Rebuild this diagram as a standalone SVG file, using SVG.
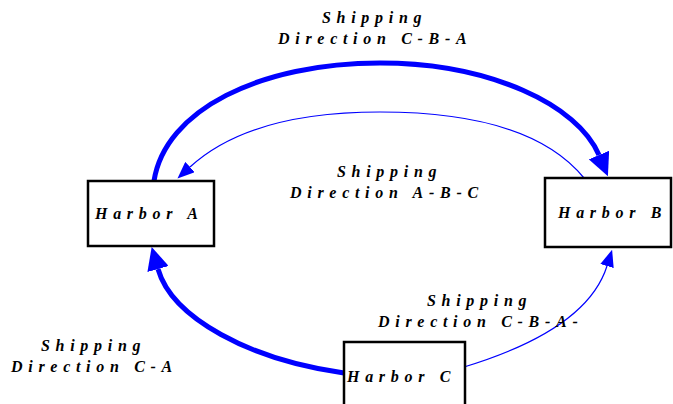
<svg xmlns="http://www.w3.org/2000/svg" width="673" height="404" viewBox="0 0 673 404">
<style>
.box{fill:#fff;stroke:#000;stroke-width:2.5}
.t{font-family:"Liberation Serif","DejaVu Serif",serif;font-weight:700;font-style:italic;font-size:16px;letter-spacing:5.7px;fill:#000}
.thick{fill:none;stroke:#0000ff;stroke-width:5}
.thin{fill:none;stroke:#0000ff;stroke-width:1.2}
</style>
<defs>
<marker id="ahBig" markerUnits="userSpaceOnUse" viewBox="0 -11 23 22" markerWidth="23" markerHeight="22" refX="0" refY="0" orient="auto">
<path d="M0,-11 L23,0 L0,11 z" fill="#0000ff"/>
</marker>
<marker id="ahSmall" markerUnits="userSpaceOnUse" viewBox="0 -7 17 14" markerWidth="17" markerHeight="14" refX="0" refY="0" orient="auto">
<path d="M0,-7 L17,0 L0,7 z" fill="#0000ff"/>
</marker>
</defs>
<rect width="673" height="404" fill="#fff"/>
<g id="connectors">
<path class="thick" d="M154,181 C165,110 260,63 380,63 C490,63 578,105 599,155" marker-end="url(#ahBig)"/>
<path class="thin" d="M584,178 C545,130 470,112 380,112 C290,112 228,132 190,167" marker-end="url(#ahSmall)"/>
<path class="thick" d="M344,373 C250,360 172,318 158,269" marker-end="url(#ahBig)"/>
<path class="thin" d="M464,367 C520,350 590,320 607,266" marker-end="url(#ahSmall)"/>
</g>
<g id="harborA">
<rect class="box" x="88" y="181" width="126" height="65"/>
<text class="t" x="95" y="219">Harbor A</text>
</g>
<g id="harborB">
<rect class="box" x="545" y="178" width="126" height="69"/>
<text class="t" x="558" y="218">Harbor B</text>
</g>
<g id="harborC">
<rect class="box" x="344" y="342" width="121" height="72"/>
<text class="t" x="347" y="382">Harbor C</text>
</g>
<g id="labels">
<text class="t" x="322" y="23">Shipping</text>
<text class="t" x="278" y="44">Direction C-B-A</text>
<text class="t" x="337" y="177">Shipping</text>
<text class="t" x="290" y="198">Direction A-B-C</text>
<text class="t" x="427" y="306">Shipping</text>
<text class="t" x="378" y="327">Direction C-B-A-</text>
<text class="t" x="41" y="351">Shipping</text>
<text class="t" x="11" y="372">Direction C-A</text>
</g>
</svg>
